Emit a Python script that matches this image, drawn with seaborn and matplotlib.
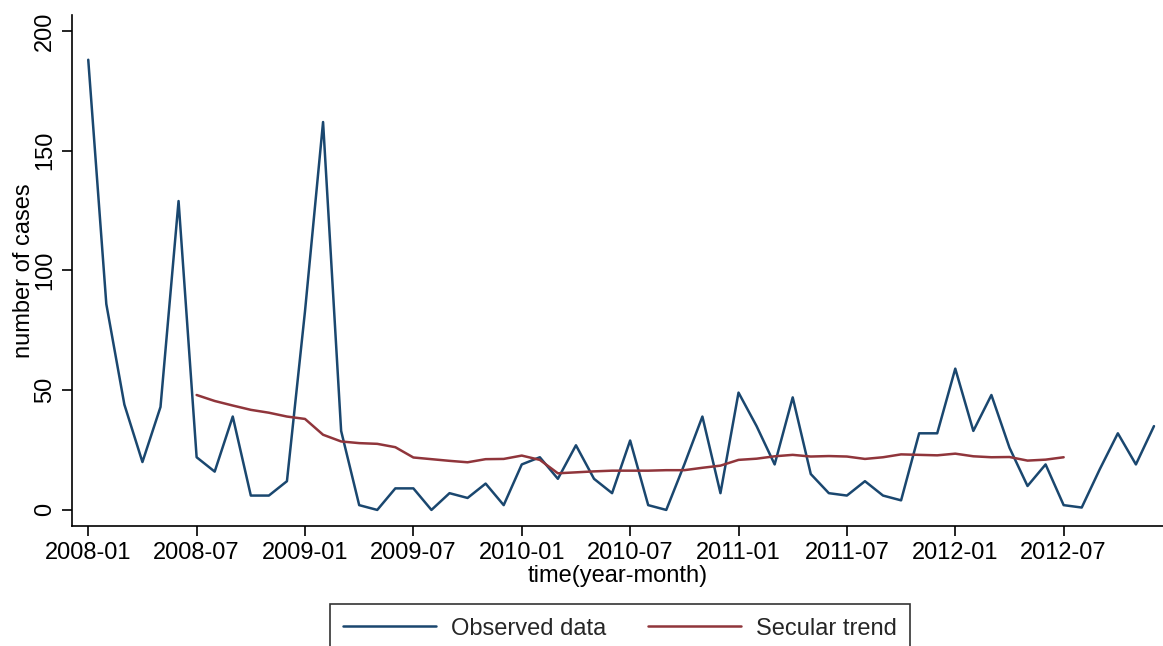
import numpy as np
import pandas as pd
import matplotlib
matplotlib.use("Agg")
import matplotlib.pyplot as plt
import seaborn as sns

# Monthly case counts, 2008-01 .. 2012-12
months = pd.period_range("2008-01", "2012-12", freq="M").strftime("%Y-%m").tolist()
observed = [188, 86, 44, 20, 43, 129, 22, 16, 39, 6, 6, 12,
            83, 162, 33, 2, 0, 9, 9, 0, 7, 5, 11, 2,
            19, 22, 13, 27, 13, 7, 29, 2, 0, 19, 39, 7,
            49, 35, 19, 47, 15, 7, 6, 12, 6, 4, 32, 32,
            59, 33, 48, 26, 10, 19, 2, 1, 17, 32, 19, 35]

# Centred 12-month secular trend, available 2008-07 .. 2012-07
trend_start = 6
trend = [48.0, 45.5, 43.6, 41.8, 40.6, 39.0, 38.0, 31.4, 28.6, 27.9, 27.6, 26.2,
         21.9, 21.2, 20.5, 19.9, 21.2, 21.3, 22.7, 20.9, 15.3, 15.7, 16.1, 16.4,
         16.4, 16.4, 16.6, 16.6, 17.6, 18.5, 20.9, 21.4, 22.4, 23.0, 22.3, 22.5,
         22.3, 21.3, 22.0, 23.2, 23.0, 22.8, 23.5, 22.4, 22.0, 22.1, 20.6, 21.0, 22.0]

tick_labels = ["2008-01", "2008-07", "2009-01", "2009-07", "2010-01",
               "2010-07", "2011-01", "2011-07", "2012-01", "2012-07"]
y_ticks = [0, 50, 100, 150, 200]

obs_df = pd.DataFrame({"t": np.arange(len(observed)), "cases": observed})
trend_df = pd.DataFrame({"t": np.arange(trend_start, trend_start + len(trend)),
                         "cases": trend})

sns.set_theme(style="ticks")
plt.rcParams["font.family"] = ["Liberation Sans", "DejaVu Sans"]

FS = 17
fig = plt.figure(figsize=(11.63, 6.46), dpi=100)
ax = fig.add_axes([0.0619, 0.1858, 0.9381, 0.7910])

blue = "#1a476f"
red = "#90353b"
sns.lineplot(data=obs_df, x="t", y="cases", ax=ax, color=blue, lw=1.8,
             label="Observed data", legend=False)
sns.lineplot(data=trend_df, x="t", y="cases", ax=ax, color=red, lw=1.8,
             label="Secular trend", legend=False)

ax.set_xlim(-0.9, 59.5)
ax.set_ylim(-6.7, 206.7)
ax.set_xticks([months.index(m) for m in tick_labels])
ax.set_xticklabels(tick_labels, fontsize=FS, color="black")
ax.set_yticks(y_ticks)
ax.set_yticklabels([str(v) for v in y_ticks], fontsize=FS,
                   rotation=90, va="center", color="black")
ax.tick_params(axis="both", direction="out", length=7, width=1.2, colors="black",
               labelcolor="black", pad=4.5)
ax.set_xlabel("time(year-month)", fontsize=FS, color="black", labelpad=1)
ax.set_ylabel("number of cases", fontsize=FS, color="black", labelpad=-1)

for side in ("top", "right"):
    ax.spines[side].set_visible(False)
for side in ("left", "bottom"):
    ax.spines[side].set_color("black")
    ax.spines[side].set_linewidth(1.2)

handles, labels = ax.get_legend_handles_labels()
leg = fig.legend(handles, labels, loc="upper center", bbox_to_anchor=(0.5331, 0.0650),
                 ncol=2, fontsize=FS, frameon=True, fancybox=False,
                 handlelength=3.9, handletextpad=0.64, columnspacing=1.8,
                 borderpad=0.58, borderaxespad=0, edgecolor="black")
leg.get_frame().set_linewidth(1.2)

fig.savefig("out.png", dpi=100)
